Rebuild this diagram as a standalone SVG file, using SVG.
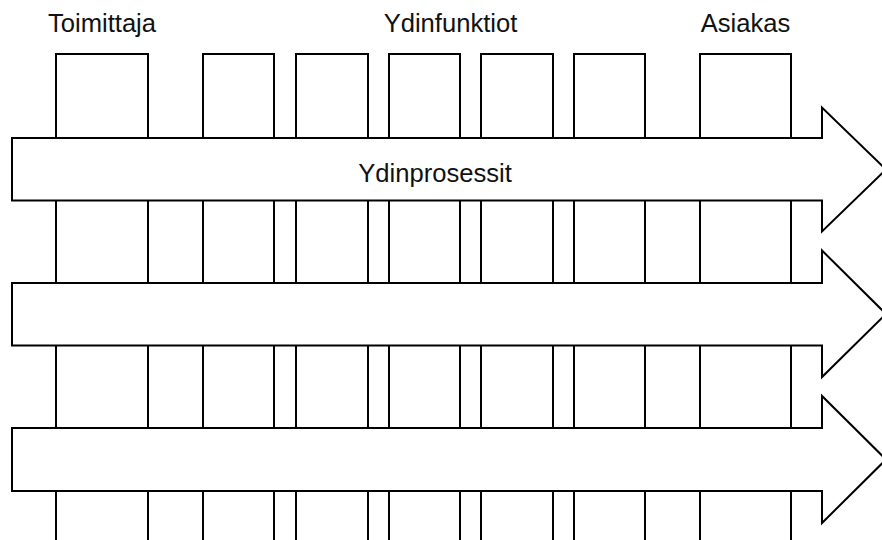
<svg xmlns="http://www.w3.org/2000/svg" width="882" height="540" viewBox="0 0 882 540">
<style>
.col{fill:#fff;stroke:#000;stroke-width:2}
.arr{fill:#fff;stroke:#000;stroke-width:2;stroke-linejoin:miter}
.lbl{font-family:"Liberation Sans",Arial,sans-serif;font-size:25.6px;fill:#111;text-anchor:middle}
</style>
<rect width="882" height="540" fill="#fff"/>
<g id="columns">
<g id="col-toimittaja"><rect class="col" x="56" y="54" width="92" height="520"/></g>
<g id="col-2"><rect class="col" x="203" y="54" width="71" height="520"/></g>
<g id="col-3"><rect class="col" x="296" y="54" width="72" height="520"/></g>
<g id="col-4"><rect class="col" x="389" y="54" width="71" height="520"/></g>
<g id="col-5"><rect class="col" x="481" y="54" width="72" height="520"/></g>
<g id="col-6"><rect class="col" x="574" y="54" width="71" height="520"/></g>
<g id="col-asiakas"><rect class="col" x="700" y="54" width="91" height="520"/></g>
</g>
<g id="arrow-1"><path class="arr" d="M12,138 H822 V107.5 L886,169.5 L822,231.5 V200.5 H12 Z"/>
<text class="lbl" x="435" y="181.5">Ydinprosessit</text></g>
<g id="arrow-2"><path class="arr" d="M12,283 H822 V250.5 L886,314 L822,377 V345.5 H12 Z"/></g>
<g id="arrow-3"><path class="arr" d="M12,428 H822 V396 L886,459.5 L822,523 V491 H12 Z"/></g>
<g id="labels">
<text class="lbl" x="102" y="31.5">Toimittaja</text>
<text class="lbl" x="450.5" y="31.5">Ydinfunktiot</text>
<text class="lbl" x="745.5" y="31.5">Asiakas</text>
</g>
<g id="connectors"></g>
</svg>
